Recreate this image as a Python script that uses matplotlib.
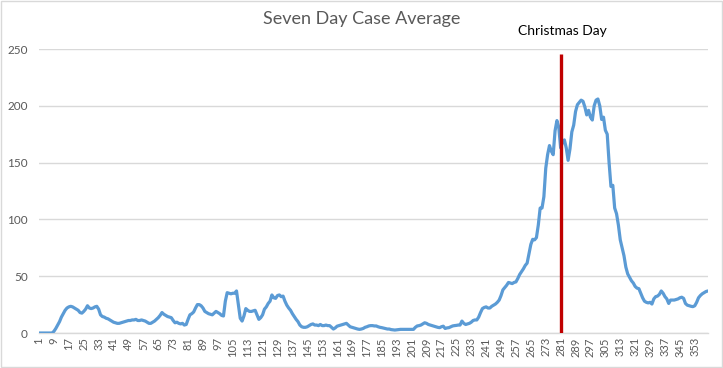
import matplotlib
matplotlib.use("Agg")
import matplotlib.pyplot as plt
import numpy as np

# Seven day case average, day 1..360
cases = [
    0, 0, 0, 0, 0, 0, 0, 0, 1.5, 4,
    7, 10, 14, 17, 20, 22, 23, 23.5, 23, 22,
    21, 20, 18, 17.5, 19, 21, 24, 22, 21.5, 22,
    23, 23.5, 21, 16, 14.5, 14, 13, 12.5, 11.5, 10.5,
    9.5, 9, 8.5, 8.5, 9, 9.5, 10, 10.5, 11, 11,
    11.5, 11.5, 12, 11, 11, 11.5, 11, 10.5, 9.5, 8.5,
    8.5, 9.5, 10.5, 12, 13.5, 15.5, 18, 16.5, 15.5, 14.5,
    14, 13.5, 11, 9, 9.5, 8.5, 8, 8.5, 7, 7.5,
    12, 16, 17, 18.5, 22, 25, 25, 24, 22, 19,
    18, 17, 16.5, 16, 17.5, 19, 18, 17, 15.5, 15,
    28, 35.5, 35, 34.5, 35, 35, 37, 25, 13, 10.5,
    15, 21.5, 20, 19, 19, 19.5, 20, 16, 12, 13.5,
    16, 21, 23, 26, 28, 33.5, 31, 30.5, 33, 33.5,
    32, 32.5, 28, 24.5, 22, 20, 17, 14.5, 12, 10,
    7, 5.5, 5, 5, 5.5, 6.5, 7.5, 8, 7, 7,
    6.5, 7.5, 6.5, 6.5, 7, 6.5, 6.5, 5, 3.5, 4.5,
    6, 6.5, 7, 7.5, 8, 8.5, 7, 5.5, 5, 4.5,
    4, 3.5, 3.2, 3.5, 4, 5, 5.5, 6.2, 6.5, 6.5,
    6.2, 6.2, 5.5, 5, 4.7, 4.3, 4, 3.5, 3.5, 3,
    2.8, 2.6, 2.8, 3, 3.2, 3.2, 3.2, 3.2, 3.2, 3.2,
    3.2, 3.2, 5, 6.2, 6.5, 7, 8, 9, 8.5, 7.5,
    7, 6.5, 6, 5.5, 5, 4.7, 5.5, 6, 4, 4.5,
    4.7, 5.5, 6.2, 6.5, 6.7, 7, 7, 10.5, 8.5, 7.5,
    8, 8.5, 9.5, 11, 11.5, 11.5, 14, 18, 21.5, 22.5,
    23, 22, 22, 23.5, 24.5, 25.5, 27, 29, 33, 38,
    40, 42, 44.5, 44, 43.5, 44.5, 45, 48, 51.5, 54,
    56.5, 59.5, 61.5, 70, 78, 82.5, 82, 84, 95, 110,
    110, 120, 145, 157, 165, 160, 157, 178, 187, 181,
    163, 168, 170, 163, 152, 162, 177, 183, 195, 201,
    203, 205, 204, 199, 192, 196, 190, 187.5, 200, 205,
    206, 200, 188, 190, 178.5, 175, 150, 129, 130, 110,
    105, 95, 82, 75, 68, 58, 52, 49, 46, 44,
    41, 39.5, 39, 35, 31, 28, 27, 26.5, 27, 25.5,
    30, 32, 32.5, 34, 37, 35, 32, 30, 26, 29,
    29, 29, 29.5, 30, 31, 31.5, 30.5, 26, 24.5, 24,
    23.5, 23.2, 24, 27, 31, 33, 34.5, 35.5, 36.5, 37,
]
days = list(range(1, len(cases) + 1))
xtick_days = list(range(1, 361, 8))
yticks = [0, 50, 100, 150, 200, 250]
christmas_day = 281
christmas_label = "Christmas Day"
title = "Seven Day Case Average"

plt.rcParams['font.family'] = ['Lato', 'DejaVu Sans']

fig = plt.figure(figsize=(7.23, 3.68), dpi=100)
fig.patch.set_facecolor('white')
ax = fig.add_axes([0.054, 0.0951, 0.925, 0.7717])

ax.plot(days, cases, color='#5b9bd5', lw=2.3, solid_joinstyle='round',
        solid_capstyle='round', zorder=3)
ax.vlines(christmas_day, 0, 246, color='#c00000', lw=2.4, zorder=4)
ax.text(christmas_day + 1, 266, christmas_label, ha='center', va='center',
        fontsize=10, color='black', clip_on=False)

ax.set_xlim(1, len(cases))
ax.set_ylim(0, 250)
ax.set_yticks(yticks)
ax.set_xticks(xtick_days)
ax.set_xticklabels([str(d) for d in xtick_days], rotation=90, fontsize=8, color='#595959')
ax.set_yticklabels([str(v) for v in yticks], fontsize=8.5, color='#595959')
ax.tick_params(axis='both', length=0, pad=3)
ax.tick_params(axis='y', pad=8)
ax.grid(axis='y', color='#d9d9d9', lw=1)
ax.set_axisbelow(True)
for s in ['top', 'right', 'left']:
    ax.spines[s].set_visible(False)
ax.spines['bottom'].set_color('#d9d9d9')
ax.spines['bottom'].set_linewidth(1)

fig.text(0.5, 0.948, title, ha='center', va='center', fontsize=13, color='#595959')

border = plt.Rectangle((0.001, 0.002), 0.997, 0.995, transform=fig.transFigure,
                       fill=False, edgecolor='#d9d9d9', lw=1)
fig.patches.append(border)

fig.savefig('out.png', dpi=100)
